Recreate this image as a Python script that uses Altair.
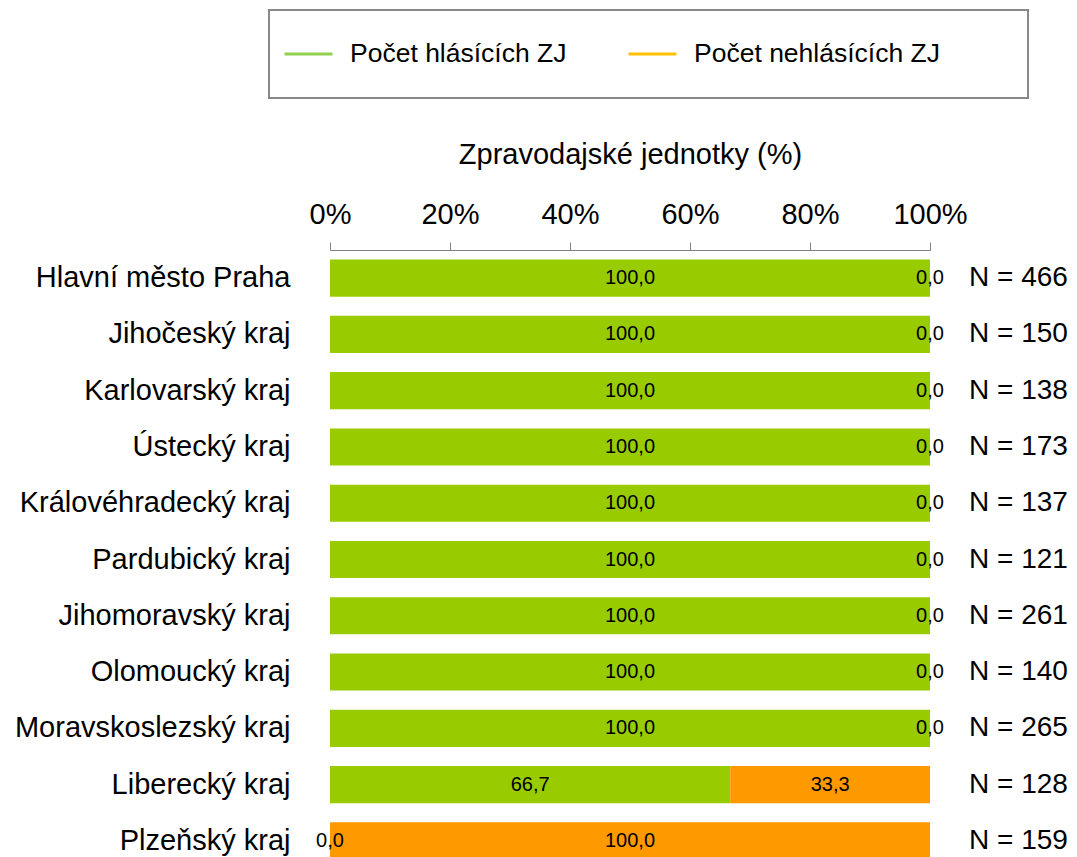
import altair as alt
import pandas as pd

regions = [
    "Hlavní město Praha", "Jihočeský kraj", "Karlovarský kraj", "Ústecký kraj",
    "Královéhradecký kraj", "Pardubický kraj", "Jihomoravský kraj", "Olomoucký kraj",
    "Moravskoslezský kraj", "Liberecký kraj", "Plzeňský kraj",
]
reporting = [100.0, 100.0, 100.0, 100.0, 100.0, 100.0, 100.0, 100.0, 100.0, 66.7, 0.0]
non_reporting = [0.0, 0.0, 0.0, 0.0, 0.0, 0.0, 0.0, 0.0, 0.0, 33.3, 100.0]
n_units = [466, 150, 138, 173, 137, 121, 261, 140, 265, 128, 159]
series_names = ["Počet hlásících ZJ", "Počet nehlásících ZJ"]
bar_colors = ["#99CC00", "#FF9900"]
legend_colors = ["#92D050", "#FFC000"]
tick_values = [0, 20, 40, 60, 80, 100]
axis_title = "Zpravodajské jednotky (%)"

rows = []
for r, a, b in zip(regions, reporting, non_reporting):
    rows.append({"region": r, "series": series_names[0], "order": 0, "value": a})
    rows.append({"region": r, "series": series_names[1], "order": 1, "value": b})
df = pd.DataFrame(rows)
n_df = pd.DataFrame({"region": regions, "n": n_units})
legend_df = pd.DataFrame({"series": series_names, "region": [regions[0]] * 2, "value": [0, 0]})

x_scale = alt.Scale(domain=[0, 100], nice=False)
x_axis = alt.Axis(
    orient="top", values=tick_values, labelExpr="datum.value + '%'", title=axis_title,
    grid=False, tickSize=8, labelPadding=13, titlePadding=31, labelFlush=False,
)
y_scale = alt.Scale(paddingInner=0.34, paddingOuter=0.17)
y_axis = alt.Axis(title=None, domain=False, ticks=False, labelPadding=40, labelLimit=500)


def y_enc():
    return alt.Y("region:N", sort=regions, scale=y_scale, axis=y_axis)


base = alt.Chart(df).transform_stack(
    stack="value", groupby=["region"], as_=["x0", "x1"], sort=[alt.SortField("order")]
).transform_calculate(
    mid="(datum.x0 + datum.x1) / 2",
    lbl="replace(format(datum.value, '.1f'), '.', ',')",
)

bars = base.mark_bar().encode(
    x=alt.X("x0:Q", scale=x_scale, axis=x_axis),
    x2="x1:Q",
    y=y_enc(),
    color=alt.Color("series:N", scale=alt.Scale(domain=series_names, range=bar_colors), legend=None),
)

labels = base.mark_text(fontSize=20, color="black").encode(
    x=alt.X("mid:Q", scale=x_scale, axis=x_axis),
    y=y_enc(),
    text="lbl:N",
)

ntext = alt.Chart(n_df).transform_calculate(
    lbl="'N = ' + datum.n"
).mark_text(align="left", dx=39, fontSize=28, color="black").encode(
    x=alt.datum(100, scale=x_scale, axis=x_axis),
    y=y_enc(),
    text="lbl:N",
)

# trailing spacing kept by a final zero-width char so the legend frame gets its width
tail = " " * 10 + "\u200b"
label_expr = (
    "datum.label == '" + series_names[1] + "' ? datum.label + '" + tail + "' : datum.label"
)

legend_layer = alt.Chart(legend_df).mark_line().encode(
    x=alt.X("value:Q", scale=x_scale, axis=x_axis),
    y=y_enc(),
    color=alt.Color(
        "series:N",
        scale=alt.Scale(domain=series_names, range=legend_colors),
        legend=alt.Legend(
            title=None, orient="none", legendX=-61, legendY=-240, direction="horizontal",
            symbolType="stroke", symbolSize=2304, symbolStrokeWidth=3,
            clipHeight=60,
            labelFontSize=26.5, labelLimit=600, labelOffset=16, columnPadding=60,
            padding=14, strokeColor="#888888",
            labelExpr=label_expr,
        ),
    ),
)

chart = alt.layer(bars, labels, ntext, legend_layer).resolve_scale(
    color="independent"
).properties(
    width=600, height=619,
    autosize=alt.AutoSizeParams(type="none"),
    padding={"left": 322, "top": 242, "right": 139, "bottom": 0},
).configure(
    font="Liberation Sans",
).configure_view(
    stroke=None,
).configure_axis(
    labelFontSize=29, titleFontSize=29, titleFontWeight="normal",
    labelColor="black", titleColor="black", domainColor="#808080", tickColor="#808080",
).configure_legend(
    strokeWidth=2, labelColor="black",
)

chart.save("out.html", embed_options={"renderer": "svg", "actions": False})
